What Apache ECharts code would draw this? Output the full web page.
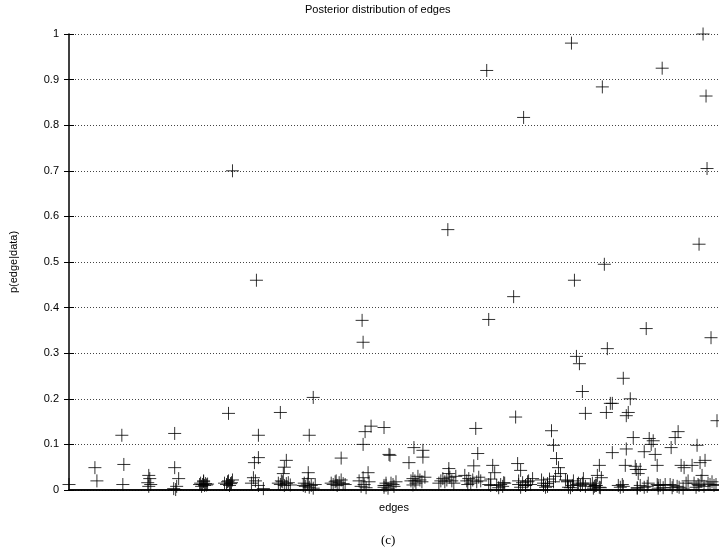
<!DOCTYPE html>
<html>
<head>
<meta charset="utf-8">
<script src="https://cdn.jsdelivr.net/npm/echarts@6/dist/echarts.min.js"></script>
<style>html,body{margin:0;padding:0;background:#fff;}#c{width:719px;height:553px;}</style>
</head>
<body>
<div id="c"></div>
<script>
// edge index (x) and posterior probability (y)
var edgeIdx = [
  0,
  26,28,
  53,55,54,
  80,81,79,82,80,
  106,106,110,108,105,107,
  132,134,135,136,137,133,138,135,131,139,
  156,158,159,160,161,162,163,164,160,164,
  190,186,190,185,190,188,183,195,187,
  212,218,216,215,210,212,214,216,218,220,222,213,
  241,245,240,240,235,237,239,241,243,245,247,236,
  273,263,265,267,268,269,271,273,275,277,
  297,295,294,295,300,295,316,318,291,293,296,298,301,303,
  316,321,322,325,316,318,320,323,326,328,
  345,346,355,355,341,343,345,348,350,352,354,357,347,
  380,381,381,371,373,375,377,379,382,384,386,388,
  400,410,408,406,397,399,401,403,405,409,411,413,
  421,436,423,423,419,421,425,427,429,431,433,435,437,
  458,460,453,451,451,456,446,448,450,453,455,458,461,463,465,
  480,486,488,476,476,474,478,480,482,484,486,489,491,493,
  505,500,511,516,510,506,518,515,503,500,513,498,501,504,507,509,512,515,518,
  539,545,532,530,534,528,533,525,527,523,526,529,532,535,537,540,543,545,
  559,577,558,569,573,570,555,556,570,551,553,556,559,561,563,566,568,571,573,
  591,577,581,580,590,591,595,579,582,584,586,588,590,593,596,598,
  604,610,616,606,612,603,605,608,611,614,617,619,621,623,
  636,630,625,634,633,635,638,640,637,632,651,627,629,631,634,637,639,641,643,645,647,649,651
];
var pEdge = [
  0.012,
  0.049,0.020,
  0.120,0.056,0.012,
  0.032,0.025,0.016,0.012,0.008,
  0.124,0.049,0.025,0.008,0.003,0.001,
  0.015,0.012,0.018,0.010,0.014,0.008,0.011,0.020,0.012,0.013,
  0.015,0.012,0.018,0.020,0.010,0.014,0.016,0.022,0.168,0.700,
  0.120,0.060,0.071,0.027,0.010,0.460,0.015,0.003,0.020,
  0.170,0.065,0.050,0.036,0.015,0.012,0.018,0.010,0.014,0.016,0.011,0.020,
  0.120,0.203,0.038,0.025,0.010,0.008,0.013,0.006,0.010,0.004,0.012,0.015,
  0.070,0.015,0.012,0.018,0.020,0.010,0.016,0.022,0.014,0.012,
  0.128,0.100,0.372,0.324,0.038,0.027,0.010,0.015,0.020,0.008,0.012,0.005,0.018,
  0.140,0.137,0.078,0.076,0.012,0.006,0.010,0.004,0.015,0.008,0.018,0.011,
  0.093,0.087,0.072,0.060,0.020,0.025,0.015,0.030,0.022,0.018,0.028,0.020,
  0.571,0.047,0.036,0.015,0.020,0.025,0.018,0.022,0.028,0.020,0.015,0.030,0.012,
  0.080,0.135,0.053,0.032,0.020,0.025,0.015,0.022,0.018,0.028,0.020,0.012,0.016,0.010,0.024,
  0.920,0.374,0.054,0.038,0.010,0.005,0.012,0.008,0.015,0.010,0.018,0.006,0.012,0.020,
  0.817,0.424,0.160,0.058,0.043,0.016,0.010,0.020,0.012,0.025,0.008,0.018,0.030,0.015,0.010,0.022,0.006,0.014,0.024,
  0.130,0.098,0.069,0.049,0.036,0.010,0.020,0.015,0.025,0.012,0.020,0.008,0.015,0.005,0.018,0.010,0.022,0.006,
  0.980,0.460,0.293,0.277,0.216,0.168,0.170,0.082,0.054,0.032,0.027,0.010,0.005,0.015,0.008,0.012,0.004,0.010,0.006,
  0.884,0.495,0.310,0.190,0.190,0.090,0.084,0.054,0.045,0.010,0.005,0.012,0.008,0.004,0.010,0.006,
  0.245,0.163,0.170,0.200,0.115,0.052,0.036,0.045,0.010,0.006,0.015,0.008,0.012,0.004,
  0.925,0.354,0.113,0.100,0.108,0.078,0.054,0.010,0.005,0.012,0.093,0.008,0.004,0.010,0.006,0.012,0.005,0.115,0.128,0.054,0.049,0.015,0.020
];
var yTicks = [0,0.1,0.2,0.3,0.4,0.5,0.6,0.7,0.8,0.9,1];
var xMax = 652;
var extraIdx = [636,639,640,632,644,630,625,633,638,635,632,650,627,629,631,634,637,641,643,645,647,649];
var extraP = [1.0,0.864,0.705,0.539,0.334,0.098,0.054,0.060,0.065,0.032,0.010,0.152,0.015,0.006,0.012,0.020,0.008,0.015,0.012,0.018,0.010,0.012];

var pts = [];
for (var i = 0; i < Math.min(edgeIdx.length, pEdge.length); i++) pts.push([edgeIdx[i], pEdge[i]]);
for (var j = 0; j < extraIdx.length; j++) pts.push([extraIdx[j], extraP[j]]);

var FONT = 'Liberation Sans';
var chart = echarts.init(document.getElementById('c'), null, {renderer: 'canvas'});
chart.setOption({
  animation: false,
  backgroundColor: '#fff',
  grid: {left: 67, right: 0, top: 34, bottom: 63, containLabel: false},
  graphic: [
    {type: 'text', left: 305, top: 4, style: {text: 'Posterior distribution of edges', fontFamily: FONT, fontSize: 11, fill: '#000'}},
    {type: 'text', left: 381, top: 534, style: {text: '(c)', fontFamily: 'Liberation Serif', fontSize: 13, fill: '#000'}}
  ],
  xAxis: [
    {type: 'value', min: 0, max: xMax, position: 'bottom',
     name: 'edges', nameLocation: 'middle', nameGap: 12,
     nameTextStyle: {fontFamily: FONT, fontSize: 11, color: '#000'},
     axisLine: {show: true, lineStyle: {color: '#000', width: 1.5}},
     axisTick: {show: false}, axisLabel: {show: false}, splitLine: {show: false}},
    {type: 'value', min: 0, max: xMax, position: 'top',
     axisLine: {show: true, lineStyle: {color: '#000', width: 1.5}},
     axisTick: {show: false}, axisLabel: {show: false}, splitLine: {show: false}}
  ],
  yAxis: [
    {type: 'value', min: 0, max: 1, interval: 0.1, position: 'left',
     name: 'p(edge|data)', nameLocation: 'middle', nameGap: 50,
     nameTextStyle: {fontFamily: FONT, fontSize: 11, color: '#000'},
     axisLine: {show: true, lineStyle: {color: '#000', width: 1.5}},
     axisTick: {show: true, inside: true, length: 5, lineStyle: {color: '#000'}},
     axisLabel: {fontFamily: FONT, fontSize: 11, color: '#000', margin: 10,
       formatter: function (v) { var r = Math.round(v * 10) / 10; return yTicks.indexOf(r) >= 0 ? String(r) : ''; }},
     splitLine: {show: true, lineStyle: {type: [1, 2], color: '#444', width: 1}}},
    {type: 'value', min: 0, max: 1, interval: 0.1, position: 'right',
     axisLine: {show: false},
     axisTick: {show: true, inside: true, length: 5, lineStyle: {color: '#000'}},
     axisLabel: {show: false}, splitLine: {show: false}}
  ],
  series: [{
    type: 'scatter', xAxisIndex: 0, yAxisIndex: 0,
    data: pts,
    symbol: 'path://M0,6L12,6M6,0L6,12',
    symbolSize: 13,
    clip: false,
    itemStyle: {color: 'none', borderColor: '#000', borderWidth: 1},
    emphasis: {disabled: true}
  }]
});
</script>
</body>
</html>
